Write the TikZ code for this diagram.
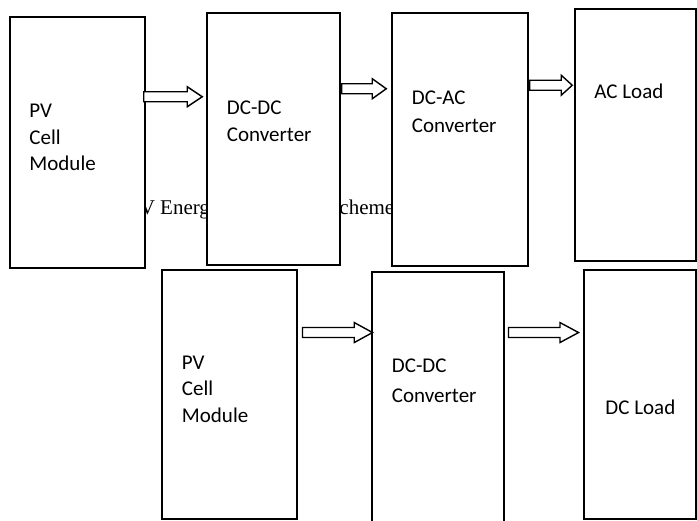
\documentclass[tikz,border=0pt]{standalone}
\usepackage{fontspec}
\setmainfont{Carlito}
\newfontfamily\capfont{Liberation Serif}
\usepackage{xcolor}
\usepackage{tikz}
\usetikzlibrary{calc}
\definecolor{EDGE}{HTML}{000000}

\begin{document}
\begin{tikzpicture}[
    x=1pt, y=-1pt,
    blk/.style={draw=EDGE, fill=white, line width=1.5pt, inner sep=0pt},
    lbl/.style={anchor=north west, inner sep=0pt, align=left, font=\fontsize{21}{#1}\selectfont},
    lbl/.default=26.5,
    blockarr/.style={draw=EDGE, fill=white, line width=1.4pt, line join=miter,
      to path={let \p1=(\tikztostart), \p2=(\tikztotarget) in
        (\x1,\y1+5pt) -- (\x2-#1,\y1+5pt) -- (\x2-#1,\y1+10pt) -- (\x2,\y1)
        -- (\x2-#1,\y1-10pt) -- (\x2-#1,\y1-5pt) -- (\x1,\y1-5pt) -- cycle}},
    blockarr/.default=15pt,
  ]
  \useasboundingbox (0,0) rectangle (697,521);
  \clip (0,0) rectangle (697,521);

  % caption left behind the boxes
  \node[anchor=base west, inner sep=0pt, font=\capfont\fontsize{21}{25}\selectfont] (cap) at (127.9,215) {PV Energy Conversion Scheme};

  % ===== top row: AC chain =====
  \node[blk, minimum width=135, minimum height=251] (pv1)    at (77.5,142.5) {};
  \node[blk, minimum width=133, minimum height=252] (dcdc1)  at (273.5,139) {};
  \node[blk, minimum width=136, minimum height=253] (dcac)   at (460,139.5) {};
  \node[blk, minimum width=121, minimum height=252] (acload) at (635.5,135) {};

  \node[lbl] (pv1txt)    at ($(pv1.north west)+(20,87.7)$)    {PV\\Cell\\Module};
  \node[lbl=26.7] (dcdc1txt) at ($(dcdc1.north west)+(20.5,88.4)$) {DC-DC\\Converter};
  \node[lbl=28.3] (dcactxt)  at ($(dcac.north west)+(20.5,78.4)$)  {DC-AC\\Converter};
  \node[lbl] (acloadtxt) at ($(acload.north west)+(20,75)$)   {AC Load};

  \draw[blockarr] ($(pv1.north east)+(-2,80.5)$) to ($(dcdc1.north west)+(-4,84.5)$);
  \draw[blockarr=14pt] ($(dcdc1.north east)+(1,76.5)$) to ($(dcac.north west)+(-5,76.5)$);
  \draw[blockarr=11pt] ($(dcac.north east)+(1,73)$) to ($(acload.north west)+(-2,77)$);

  % ===== bottom row: DC chain =====
  \node[blk, minimum width=135, minimum height=249] (pv2)    at (229.5,394.5) {};
  \node[blk, minimum width=132, minimum height=254] (dcdc2)  at (438,399) {};
  \node[blk, minimum width=112, minimum height=249] (dcload) at (640,394.5) {};

  \node[lbl] (pv2txt)    at ($(pv2.north west)+(20.5,86.5)$)   {PV\\Cell\\Module};
  \node[lbl=29.7] (dcdc2txt) at ($(dcdc2.north west)+(20.5,87.7)$) {DC-DC\\Converter};
  \node[lbl] (dcloadtxt) at ($(dcload.north west)+(22,130.3)$) {DC Load};

  \draw[blockarr=18.3pt] ($(pv2.north east)+(4.7,63.3)$) to ($(dcdc2.north west)+(1.3,61.3)$);
  \draw[blockarr=18.6pt] ($(dcdc2.north east)+(3.7,61.3)$) to ($(dcload.north west)+(-4.7,63.3)$);

\end{tikzpicture}
\end{document}
